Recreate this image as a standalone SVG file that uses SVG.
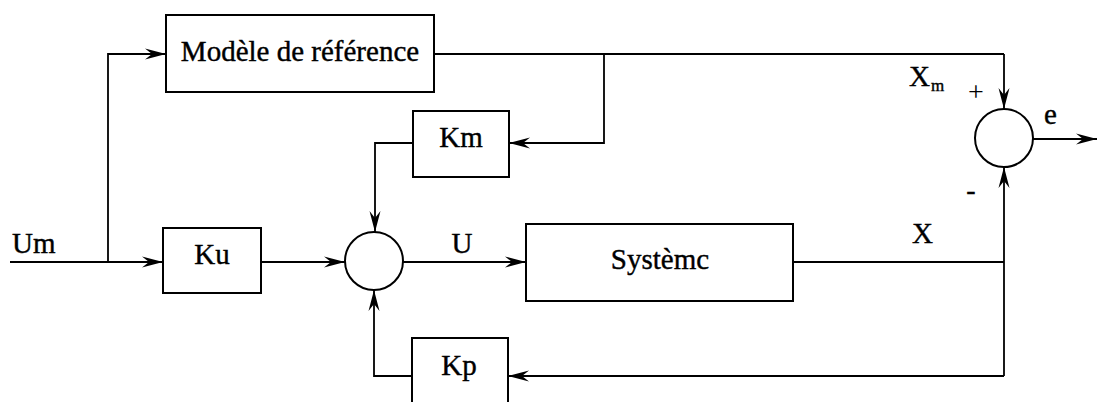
<svg xmlns="http://www.w3.org/2000/svg" width="1099" height="402" viewBox="0 0 1099 402">
<style>
.box{fill:none;stroke:#000;stroke-width:2}
.ln{fill:none;stroke:#000;stroke-width:1.8}
.ar{fill:none;stroke:#000;stroke-width:1.8;marker-end:url(#ah)}
text{font-family:"Liberation Serif","Times New Roman",serif;font-size:29px;fill:#000;stroke:#000;stroke-width:0.4}
.c{text-anchor:middle}
</style>
<defs>
<marker id="ah" markerUnits="userSpaceOnUse" markerWidth="24" markerHeight="14" viewBox="-22 -7 24 14" refX="0" refY="0" orient="auto">
<path d="M0,0 L-21,-5.5 L-14,0 L-21,5.5 z" fill="#000"/>
</marker>
</defs>
<rect width="1099" height="402" fill="#fff"/>
<g id="connectors">
<path class="ar" d="M10,262 L163,262"/>
<path class="ar" d="M108,262 L108,54 L166,54"/>
<path class="ln" d="M434,54 L1004,54"/>
<path class="ar" d="M1004,54 L1004,109"/>
<path class="ar" d="M604,54 L604,143 L509,143"/>
<path class="ar" d="M413,143 L375,143 L375,232"/>
<path class="ar" d="M261,262 L345,262"/>
<path class="ar" d="M403,262 L526,262"/>
<path class="ln" d="M793,262 L1004,262"/>
<path class="ar" d="M1004,376 L1004,167"/>
<path class="ar" d="M1004,376 L508,376"/>
<path class="ar" d="M412,376 L374,376 L374,290"/>
<path class="ar" d="M1033,139 L1097,139"/>
</g>
<g id="input-label"><text x="12" y="253">Um</text></g>
<g id="modele">
<rect class="box" x="166" y="15" width="268" height="77"/>
<text class="c" x="300" y="61">Modèle de référence</text>
</g>
<g id="km">
<rect class="box" x="413" y="111" width="96" height="66"/>
<text class="c" x="461" y="147">Km</text>
</g>
<g id="ku">
<rect class="box" x="163" y="228" width="98" height="65"/>
<text class="c" x="212" y="264">Ku</text>
</g>
<g id="sum1">
<circle class="box" cx="374" cy="261" r="29"/>
</g>
<g id="u-label"><text class="c" x="462" y="253">U</text></g>
<g id="systeme">
<rect class="box" x="526" y="224" width="267" height="77"/>
<text class="c" x="660" y="269">Systèmc</text>
</g>
<g id="x-label"><text x="912" y="243">X</text></g>
<g id="kp">
<rect class="box" x="412" y="338" width="96" height="72"/>
<text class="c" x="459" y="375">Kp</text>
</g>
<g id="sum2">
<circle class="box" cx="1004" cy="138" r="29"/>
<text x="909" y="86">X</text>
<text x="931" y="91" style="font-size:17px">m</text>
<text class="c" x="976" y="101" style="font-size:28px;stroke-width:0">+</text>
<text class="c" x="971" y="199" style="font-size:28px">-</text>
</g>
<g id="e-label"><text x="1044" y="124">e</text></g>
</svg>
